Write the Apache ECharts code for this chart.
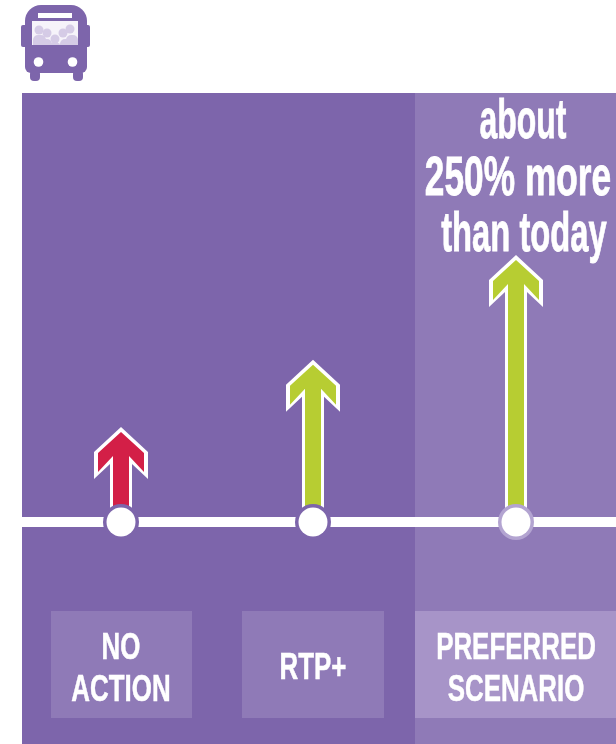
<!DOCTYPE html>
<html><head><meta charset="utf-8">
<style>html,body{margin:0;padding:0;background:#fff}#c{width:616px;height:744px}</style>
<script src="https://cdn.jsdelivr.net/npm/echarts@6/dist/echarts.min.js"></script>
</head><body><div id="c"></div>
<script>
const categories = ['NO\nACTION', 'RTP+', 'PREFERRED\nSCENARIO'];
const increaseValues = [89, 152, 250];
const headlineLines = ['about', '250% more', 'than today'];
const arrowColors = ['#d31f47', '#b7cd32', '#b7cd32'];
const DARK = '#7d65ab', MID = '#8f7ab7', LIGHT = '#a794c8', RING = '#b3a4d1', PALE = '#d5cbe6';
const FONT = '"Liberation Sans",sans-serif';

const chart = echarts.init(document.getElementById('c'), null, {renderer: 'canvas'});
const nudge = [0, -6, -1];
const boxSpan = [[-70, 71], [-71, 71], [-101, 100]];

function txt(s, cx, cy, size, sx, sw) {
  return {type: 'text', x: cx, y: cy, scaleX: sx, scaleY: 1,
    style: {text: s, x: 0, y: 0, fill: '#fff', stroke: '#fff', lineWidth: sw, font: 'bold ' + size + 'px ' + FONT,
      textAlign: 'center', textVerticalAlign: 'middle'}};
}
function poly(c, t, base, fill) {
  return {type: 'polygon', shape: {points: fill
    ? [[c, t + 5], [c + 23, t + 26], [c + 23, t + 45], [c + 8, t + 29], [c + 8, base], [c - 8, base], [c - 8, t + 29], [c - 23, t + 45], [c - 23, t + 26]]
    : [[c, t], [c + 27, t + 25], [c + 27, t + 52], [c + 11, t + 37], [c + 11, base], [c - 11, base], [c - 11, t + 37], [c - 27, t + 52], [c - 27, t + 25]]},
    style: {fill: fill || '#fff'}};
}
function renderItem(params, api) {
  const i = params.dataIndex;
  const top = api.coord([i, api.value(1)]);
  const base = api.coord([i, 0]);
  const c = base[0] + nudge[i], t = top[1], b = base[1];
  const box = boxSpan[i];
  const kids = [
    poly(c, t, b - 10, null),
    poly(c, t, b - 10, arrowColors[i]),
    {type: 'circle', shape: {cx: c, cy: b, r: 18}, style: {fill: i === 2 ? RING : DARK}},
    {type: 'circle', shape: {cx: c, cy: b, r: 14.5}, style: {fill: '#fff'}},
    {type: 'rect', shape: {x: c + box[0], y: 611, width: box[1] - box[0], height: 107}, style: {fill: i === 2 ? LIGHT : MID}}
  ];
  const lines = categories[i].split('\n');
  const ys = lines.length === 2 ? [649, 691] : [669];
  lines.forEach((s, k) => kids.push(txt(s, c, ys[k], 37, 0.70, 0.5)));
  if (i === 2) {
    const hy = [123, 180, 236];
    const hx = [7, 2, 8];
    const hs = [0.57, 0.63, 0.585];
    headlineLines.forEach((s, k) => kids.push(txt(s, c + hx[k], hy[k], 56, hs[k], 0.8)));
  }
  return {type: 'group', children: kids};
}
const head = (cx, cy) => ({type: 'circle', shape: {cx, cy, r: 4.5}, style: {fill: PALE}});
const torso = (x, y, w, h) => ({type: 'rect', shape: {x, y, width: w, height: h, r: [5, 5, 0, 0]}, style: {fill: PALE}});

chart.setOption({
  animation: false,
  backgroundColor: '#fff',
  grid: {left: 22, right: 0, top: 94.8, bottom: 8.4},
  xAxis: {type: 'category', data: categories, axisTick: {show: false}, axisLabel: {show: false},
    axisLine: {show: true, onZero: true, lineStyle: {color: '#fff', width: 10}}, splitLine: {show: false}},
  yAxis: {type: 'value', min: -200, max: 400, interval: 100, show: false},
  graphic: [
    {type: 'rect', z: -10, shape: {x: 22, y: 93, width: 393, height: 651}, style: {fill: DARK}},
    {type: 'rect', z: -10, shape: {x: 415, y: 93, width: 201, height: 651}, style: {fill: MID}},
    {type: 'group', z: 10, children: [
      {type: 'rect', shape: {x: 25, y: 5, width: 62, height: 68, r: [16, 16, 6, 6]}, style: {fill: DARK}},
      {type: 'rect', shape: {x: 21, y: 25, width: 6, height: 22, r: 2}, style: {fill: DARK}},
      {type: 'rect', shape: {x: 85, y: 25, width: 5, height: 22, r: 2}, style: {fill: DARK}},
      {type: 'rect', shape: {x: 30, y: 70, width: 10, height: 11, r: 4}, style: {fill: DARK}},
      {type: 'rect', shape: {x: 73, y: 70, width: 10, height: 11, r: 4}, style: {fill: DARK}},
      {type: 'rect', shape: {x: 38, y: 13, width: 34, height: 5}, style: {fill: '#fff'}},
      {type: 'rect', shape: {x: 32, y: 21, width: 46, height: 24}, style: {fill: '#f6f3fa'}},
      head(39, 30), head(47, 33), head(55, 39), head(63, 33), head(70, 29),
      torso(33, 35, 13, 10), torso(39, 39, 13, 6), torso(50, 43, 10, 2), torso(60, 39, 12, 6), torso(66, 35, 12, 10),
      {type: 'circle', shape: {cx: 38.5, cy: 62, r: 4.8}, style: {fill: '#fff'}},
      {type: 'circle', shape: {cx: 72.5, cy: 62, r: 4.8}, style: {fill: '#fff'}}
    ]}
  ],
  series: [{type: 'custom', clip: false, renderItem, encode: {x: 0, y: 1},
    data: increaseValues.map((v, i) => [i, v])}]
});
</script></body></html>
